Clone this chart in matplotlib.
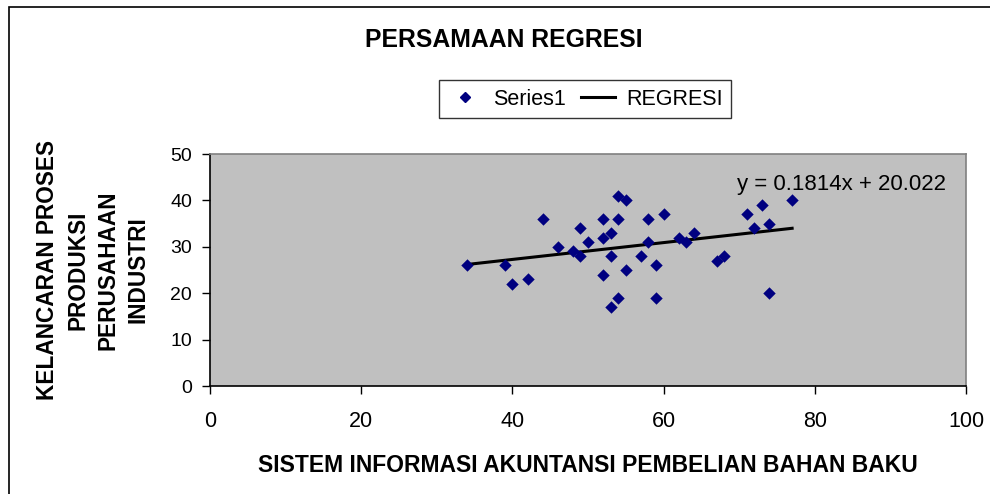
import matplotlib
matplotlib.use("Agg")
import matplotlib.pyplot as plt
from matplotlib.patches import Rectangle
from matplotlib.lines import Line2D
import numpy as np

plt.rcParams['font.family'] = ['Liberation Sans', 'DejaVu Sans']

# Data
x_vals = [34, 39, 40, 42, 44, 46, 48, 49, 49, 50, 52, 52, 52, 53, 53, 53, 54, 54, 54,
          55, 55, 57, 58, 58, 59, 59, 60, 62, 63, 64, 67, 68, 71, 72, 73, 74, 74, 77]
y_vals = [26, 26, 22, 23, 36, 30, 29, 34, 28, 31, 36, 32, 24, 33, 28, 17, 41, 36, 19,
          40, 25, 28, 36, 31, 26, 19, 37, 32, 31, 33, 27, 28, 37, 34, 39, 35, 20, 40]
slope = 0.1814
intercept = 20.022
x_ticks = [0, 20, 40, 60, 80, 100]
y_ticks = [0, 10, 20, 30, 40, 50]

title = "PERSAMAAN REGRESI"
x_label = "SISTEM INFORMASI AKUNTANSI PEMBELIAN BAHAN BAKU"
y_label = "KELANCARAN PROSES\nPRODUKSI\nPERUSAHAAN\nINDUSTRI"
eq_label = "y = 0.1814x + 20.022"

fig = plt.figure(figsize=(9.9, 4.94), dpi=100)
fig.patch.set_facecolor('white')

# outer frame (top and left visible)
fig.patches.append(Rectangle((9/990, -0.2), 1.2, 1 - 7/494 + 0.2, transform=fig.transFigure,
                             fill=False, edgecolor='black', linewidth=1.2))

ax = fig.add_axes([210/990, 1 - 386/494, 756/990, 232/494])
ax.set_facecolor('#C0C0C0')

ax.scatter(x_vals, y_vals, marker='D', s=40, color='#000080', zorder=3, linewidths=0)
xr = np.array([min(x_vals), max(x_vals)])
ax.plot(xr, slope * xr + intercept, color='black', linewidth=2.2, zorder=2)

ax.set_xlim(0, 100)
ax.set_ylim(0, 50)
ax.set_xticks(x_ticks)
ax.set_yticks(y_ticks)
ax.tick_params(axis='both', direction='out', length=6, width=1, colors='black')
ax.tick_params(axis='x', pad=12, labelsize=15.5)
ax.tick_params(axis='y', pad=7, labelsize=14)
for s in ['left', 'bottom']:
    ax.spines[s].set_color('black')
    ax.spines[s].set_linewidth(1.2)
for s in ['top', 'right']:
    ax.spines[s].set_color('#808080')
    ax.spines[s].set_linewidth(1.2)

ax.text(69.7, 43.5, eq_label, fontsize=16, va='center', ha='left', color='black')

fig.text(504/990, 1 - 40/494, title, fontsize=17.8, fontweight='bold', ha='center', va='center')
fig.text(588/990, 1 - 465/494, x_label, fontsize=16.5, fontweight='bold', ha='center', va='center')
fig.text(93/990, 1 - 270/494, y_label, fontsize=16.3, fontweight='bold', ha='center', va='center',
         rotation=90, multialignment='center', linespacing=1.4)

handles = [Line2D([], [], marker='D', linestyle='none', color='#000080', markersize=5.5),
           Line2D([], [], color='black', linewidth=2.2)]
leg = fig.legend(handles, ['Series1', 'REGRESI'], loc='center', bbox_to_anchor=(585/990, 1 - 99/494),
                 ncol=2, frameon=True, fancybox=False, edgecolor='black', fontsize=15.5,
                 handlelength=1.6, handletextpad=0.5, columnspacing=0.7, borderpad=0.4)
leg.get_frame().set_linewidth(1.0)

fig.savefig('out.png', dpi=100)
